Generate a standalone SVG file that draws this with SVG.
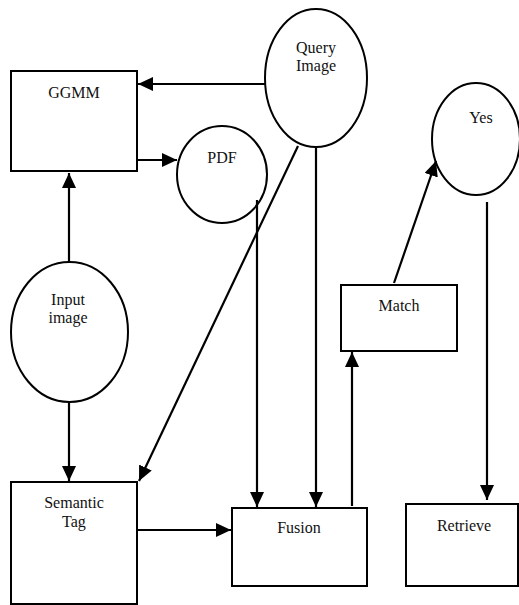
<svg xmlns="http://www.w3.org/2000/svg" width="519" height="605" viewBox="0 0 519 605">
<style>
.n{fill:#fff;stroke:#000;stroke-width:2}
.t{font-family:"Liberation Serif","Times New Roman",serif;font-size:16px;fill:#111;text-anchor:middle}
.c{stroke:#000;stroke-width:2.2;fill:none}
</style>
<defs>
<marker id="a" markerUnits="userSpaceOnUse" markerWidth="16" markerHeight="15" refX="15" refY="7" orient="auto">
<path d="M0,0 L15,7 L0,14 z" fill="#000"/>
</marker>
</defs>
<rect width="519" height="605" fill="#fff"/>
<g id="ggmm"><rect class="n" x="11" y="71" width="126" height="100"/><text class="t" x="74" y="98">GGMM</text></g>
<g id="pdf"><ellipse class="n" cx="222" cy="174.5" rx="45" ry="48.5"/><text class="t" x="222" y="163">PDF</text></g>
<g id="query"><ellipse class="n" cx="316" cy="78" rx="51" ry="69"/><text class="t" x="316" y="53">Query</text><text class="t" x="316" y="71">Image</text></g>
<g id="yes"><ellipse class="n" cx="476" cy="139" rx="44" ry="56"/><text class="t" x="481" y="123">Yes</text></g>
<g id="input"><ellipse class="n" cx="69.5" cy="332" rx="58.5" ry="70"/><text class="t" x="68" y="305">Input</text><text class="t" x="68" y="323">image</text></g>
<g id="match"><rect class="n" x="341" y="285" width="116" height="66"/><text class="t" x="399" y="311">Match</text></g>
<g id="semantic"><rect class="n" x="11" y="482" width="126" height="122"/><text class="t" x="74" y="508">Semantic</text><text class="t" x="74" y="527">Tag</text></g>
<g id="fusion"><rect class="n" x="232" y="508" width="135" height="78"/><text class="t" x="299" y="533">Fusion</text></g>
<g id="retrieve"><rect class="n" x="406" y="504" width="112" height="82"/><text class="t" x="464" y="531">Retrieve</text></g>
<g id="connectors">
<line class="c" x1="265" y1="84" x2="138" y2="84" marker-end="url(#a)"/>
<line class="c" x1="137" y1="160" x2="177" y2="160" marker-end="url(#a)"/>
<line class="c" x1="69" y1="262" x2="69" y2="173" marker-end="url(#a)"/>
<line class="c" x1="69" y1="402" x2="69" y2="481" marker-end="url(#a)"/>
<line class="c" x1="298" y1="146" x2="139" y2="481" marker-end="url(#a)"/>
<line class="c" x1="316" y1="147" x2="316" y2="507" marker-end="url(#a)"/>
<line class="c" x1="257" y1="200" x2="257" y2="507" marker-end="url(#a)"/>
<line class="c" x1="137" y1="530" x2="231" y2="530" marker-end="url(#a)"/>
<line class="c" x1="352" y1="506" x2="352" y2="352" marker-end="url(#a)"/>
<line class="c" x1="394" y1="283" x2="436" y2="161" marker-end="url(#a)"/>
<line class="c" x1="487" y1="202" x2="487" y2="500" marker-end="url(#a)"/>
</g>
</svg>
